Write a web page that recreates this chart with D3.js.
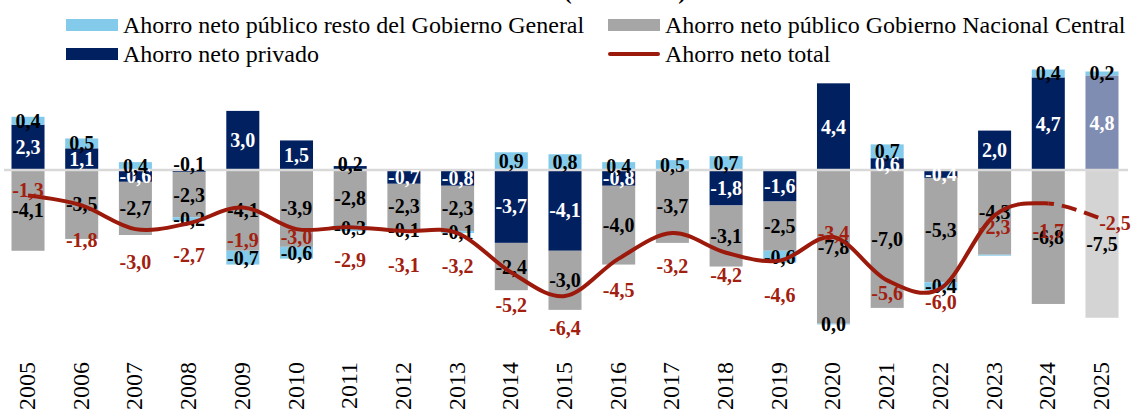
<!DOCTYPE html>
<html>
<head>
<meta charset="utf-8">
<script src="https://cdn.jsdelivr.net/npm/d3@7"></script>
<style>
  html, body { margin: 0; padding: 0; background: #fff; }
  svg { display: block; }
  text { font-family: "Liberation Serif", "Times New Roman", serif; }
</style>
</head>
<body>
<svg id="chart" width="1134" height="412"></svg>
<script>
// ---------------- DATA ----------------
const years = ["2005","2006","2007","2008","2009","2010","2011","2012","2013","2014","2015",
               "2016","2017","2018","2019","2020","2021","2022","2023","2024","2025"];
// Ahorro neto público resto del Gobierno General
const resto   = [0.4, 0.5, 0.4, -0.2, -0.7, -0.6, -0.3, -0.1, -0.1, 0.9, 0.8,
                 0.4, 0.5, 0.7, -0.6, -0.04, 0.7, -0.4, -0.05, 0.4, 0.2];
// Ahorro neto público Gobierno Nacional Central
const gnc     = [-4.1, -3.5, -2.7, -2.3, -4.1, -3.9, -2.8, -2.3, -2.3, -2.4, -3.0,
                 -4.0, -3.7, -3.1, -2.5, -7.8, -7.0, -5.3, -4.3, -6.8, -7.5];
// Ahorro neto privado
const privado = [2.3, 1.1, -0.6, -0.1, 3.0, 1.5, 0.2, -0.7, -0.8, -3.7, -4.1,
                 -0.8, 0.0, -1.8, -1.6, 4.4, 0.6, -0.4, 2.0, 4.7, 4.8];
// Ahorro neto total
const total   = [-1.3, -1.8, -3.0, -2.7, -1.9, -3.0, -2.9, -3.1, -3.2, -5.2, -6.4,
                 -4.5, -3.2, -4.2, -4.6, -3.4, -5.6, -6.0, -2.3, -1.7, -2.5];
const projectedYears = ["2025"];
const hiddenLabels = [["resto","2023"], ["privado","2017"]];
const legendLabels = {
  resto: "Ahorro neto público resto del Gobierno General",
  gnc: "Ahorro neto público Gobierno Nacional Central",
  privado: "Ahorro neto privado",
  total: "Ahorro neto total"
};
const titleText = "(% del PIB)";

// ---------------- LAYOUT / STYLE ----------------
const W = 1134, H = 412;
const colors = {
  resto: "#84CBEB", gnc: "#A6A6A6", privado: "#002060",
  privadoProj: "#7F8DB3", gncProj: "#D4D4D4", restoProj: "#84CBEB",
  line: "#9B1A0C", lineLabel: "#A2200F", zero: "#D9D9D9"
};
// label offsets (pixels) for total labels relative to line points
const totalLabelDy = [-6, 35, 33, 32, 33, 8, 33, 34, 33, 33, 32, 31, 33, 22, 34, -4, 13, 14, 12, 28, 4];
const totalLabelDx = [0,0,0,0,0,0,0,0,0,0,0,0,0,0,0,0,0,0,0,0,13];

const svg = d3.select("#chart");

const x = d3.scaleBand().domain(years).range([11.5, 1118.5]).paddingInner(0.385).paddingOuter(0);
const y = d3.scaleLinear().domain([-9, 5.5]).range([347.3, 61.65]);
const bw = x.bandwidth();
const cx = d => x(d) + bw / 2;

const fmt = v => {
  const r = Math.round(v * 10) / 10;
  if (r === 0) return "0,0";
  return r.toFixed(1).replace(".", ",");
};

// build stacked segments (diverging)
const keys = ["privado", "gnc", "resto"];
const series = { privado, gnc, resto };
const segments = [];
years.forEach((yr, i) => {
  let pos = 0, neg = 0;
  const proj = projectedYears.includes(yr);
  keys.forEach(k => {
    const v = series[k][i];
    let y0, y1;
    if (v >= 0) { y0 = pos; y1 = pos + v; pos = y1; }
    else { y0 = neg; y1 = neg + v; neg = y1; }
    segments.push({ year: yr, key: k, v, y0, y1, proj });
  });
});

const segColor = s => s.proj ? colors[s.key + "Proj"] : colors[s.key];

// bars
svg.append("g").selectAll("rect").data(segments).join("rect")
  .attr("x", d => x(d.year))
  .attr("width", bw)
  .attr("y", d => y(Math.max(d.y0, d.y1)))
  .attr("height", d => Math.abs(y(d.y0) - y(d.y1)))
  .attr("fill", segColor);

// zero line
svg.append("line")
  .attr("x1", 4).attr("x2", 1128)
  .attr("y1", y(0)).attr("y2", y(0))
  .attr("stroke", colors.zero).attr("stroke-width", 2.5);

// bar labels
const isHidden = s => hiddenLabels.some(h => h[0] === s.key && h[1] === s.year);
svg.append("g").selectAll("text").data(segments.filter(s => !isHidden(s))).join("text")
  .attr("x", d => cx(d.year))
  .attr("y", d => {
    if (d.key === "privado" && Math.abs(d.v) < 0.3) return y(0) - 6;
    return (y(d.y0) + y(d.y1)) / 2;
  })
  .attr("dy", "0.35em")
  .attr("text-anchor", "middle")
  .attr("font-size", 20)
  .attr("font-weight", "bold")
  .attr("fill", d => (d.key === "privado" && Math.abs(d.v) >= 0.3) ? "#fff" : "#000")
  .text(d => fmt(d.v));

// total line (smoothed), solid up to 2024, dashed for last segment
const pts = years.map((yr, i) => [cx(yr), y(total[i])]);
const lineGen = d3.line().curve(d3.curveCardinal.tension(0));
const splitX = cx(years[years.length - 2]);
const defs = svg.append("defs");
defs.append("clipPath").attr("id", "clipSolid").append("rect")
  .attr("x", 0).attr("y", 0).attr("width", splitX).attr("height", H);
defs.append("clipPath").attr("id", "clipDash").append("rect")
  .attr("x", splitX).attr("y", 0).attr("width", W - splitX).attr("height", H);

svg.append("path")
  .attr("d", lineGen(pts))
  .attr("fill", "none")
  .attr("stroke", colors.line)
  .attr("stroke-width", 4)
  .attr("clip-path", "url(#clipSolid)");
svg.append("path")
  .attr("d", lineGen(pts.slice(-3)))
  .attr("fill", "none")
  .attr("stroke", colors.line)
  .attr("stroke-width", 4)
  .attr("stroke-dasharray", "15,8")
  .attr("clip-path", "url(#clipDash)");

// total labels
svg.append("g").selectAll("text").data(years).join("text")
  .attr("x", (d, i) => cx(d) + totalLabelDx[i])
  .attr("y", (d, i) => y(total[i]) + totalLabelDy[i])
  .attr("dy", "0.35em")
  .attr("text-anchor", "middle")
  .attr("font-size", 20)
  .attr("font-weight", "bold")
  .attr("fill", colors.lineLabel)
  .text((d, i) => fmt(total[i]));

// x axis labels (rotated)
svg.append("g").selectAll("text").data(years).join("text")
  .attr("transform", d => `translate(${cx(d) + 7},362) rotate(-90)`)
  .attr("text-anchor", "end")
  .attr("font-size", 24)
  .attr("fill", "#000")
  .text(d => d);

// title (cut off at top)
svg.append("text")
  .attr("x", 625).attr("y", -1)
  .attr("text-anchor", "middle")
  .attr("font-size", 24)
  .attr("font-weight", "bold")
  .text(titleText);

// legend
const lg = svg.append("g");
const legendItems = [
  { key: "resto", type: "rect", x: 66, y: 25 },
  { key: "gnc", type: "rect", x: 608, y: 25 },
  { key: "privado", type: "rect", x: 66, y: 54 },
  { key: "total", type: "line", x: 608, y: 54 }
];
legendItems.forEach(it => {
  if (it.type === "rect") {
    lg.append("rect").attr("x", it.x).attr("y", it.y - 6).attr("width", 52).attr("height", 12)
      .attr("fill", colors[it.key]);
  } else {
    lg.append("line").attr("x1", it.x + 2).attr("x2", it.x + 50).attr("y1", it.y).attr("y2", it.y)
      .attr("stroke", colors.line).attr("stroke-width", 4).attr("stroke-linecap", "round");
  }
  lg.append("text").attr("x", it.x + 57).attr("y", it.y + 8)
    .attr("font-size", 24).attr("fill", "#000")
    .text(legendLabels[it.key]);
});
</script>
</body>
</html>
